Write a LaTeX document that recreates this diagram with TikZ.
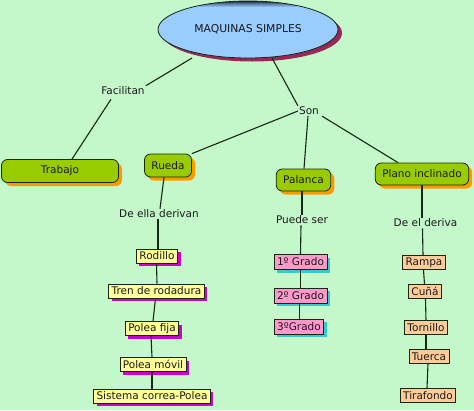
\documentclass[tikz,border=0pt]{standalone}
\usepackage{fontspec}
\setmainfont{DejaVu Sans}
\usetikzlibrary{shadows,shapes.geometric}
\definecolor{bg}{RGB}{196,248,202}
\definecolor{ellfill}{RGB}{153,204,255}
\definecolor{ellshadow}{RGB}{153,40,90}
\definecolor{greenbox}{RGB}{153,204,0}
\definecolor{orangesh}{RGB}{255,153,0}
\definecolor{yellowbox}{RGB}{255,255,153}
\definecolor{magentash}{RGB}{204,0,204}
\definecolor{pinkbox}{RGB}{255,153,204}
\definecolor{cyansh}{RGB}{51,204,204}
\definecolor{peachbox}{RGB}{255,204,153}
\definecolor{linec}{RGB}{20,40,20}
\tikzset{
  every node/.style={font=\fontsize{10.5}{12}\selectfont, text=black!90},
  mainbox/.style={draw=linec, line width=0.8pt, fill=greenbox, rounded corners=6pt,
    minimum height=23pt, inner xsep=7pt, inner ysep=2pt,
    drop shadow={shadow xshift=3.5pt, shadow yshift=-3.5pt, fill=orangesh, opacity=1}},
  yelbox/.style={draw=linec, line width=0.7pt, fill=yellowbox, minimum height=14pt,
    inner xsep=3pt, inner ysep=1pt,
    drop shadow={shadow xshift=3pt, shadow yshift=-3pt, fill=magentash, opacity=1}},
  pinkb/.style={draw=linec, line width=0.7pt, fill=pinkbox, minimum height=15pt,
    inner xsep=3pt, inner ysep=1pt,
    drop shadow={shadow xshift=3pt, shadow yshift=-3pt, fill=cyansh, opacity=1}},
  peachb/.style={draw=linec, line width=0.7pt, fill=peachbox, minimum height=14pt,
    inner xsep=3pt, inner ysep=1pt},
  lbl/.style={inner sep=1pt},
  conn/.style={draw=linec, line width=1.1pt},
}
\begin{document}
\begin{tikzpicture}[x=1pt,y=-1pt]
\useasboundingbox (0,0) rectangle (474,410);
\fill[bg] (0,0) rectangle (474,410);
% title ellipse
\fill[ellshadow] (252,33) ellipse [x radius=90, y radius=28.5];
\fill[ellfill] (248,29.5) ellipse [x radius=90, y radius=28.5];
\begin{scope}
  \clip (248,29.5) ellipse [x radius=90, y radius=28.5];
  \shade[top color=black!80!blue, bottom color=ellfill, middle color=black!40!ellfill] (200,0) rectangle (296,7);
\end{scope}
\draw[linec, line width=0.8pt] (248,29.5) ellipse [x radius=90, y radius=28.5];
\node[inner sep=0pt, minimum width=180pt, minimum height=57pt, font=\fontsize{10.8}{12}\selectfont] (title) at (248,29.5) {MAQUINAS SIMPLES};
\coordinate (tl) at (192,58);
\coordinate (tr) at (272,58);

\node[lbl] (facil) at (123,91) {Facilitan};
\node[lbl] (son) at (309,111) {Son};
\node[mainbox, minimum width=117pt] (trabajo) at (60,171) {Trabajo};
\node[mainbox] (rueda) at (168,165.5) {Rueda};
\node[mainbox, minimum height=22pt] (palanca) at (303.5,180) {Palanca};
\node[mainbox, minimum height=22pt] (plano) at (422,174) {Plano inclinado};

\node[lbl] (ella) at (159,214) {De ella derivan};
\node[yelbox] (rodillo) at (157,256) {Rodillo};
\node[yelbox] (tren) at (156.5,291) {Tren de rodadura};
\node[yelbox] (fija) at (152,328.5) {Polea fija};
\node[yelbox] (movil) at (153,364.5) {Polea móvil};
\node[yelbox] (sist) at (152,396) {Sistema correa-Polea};

\node[lbl] (puede) at (302,220) {Puede ser};
\node[pinkb] (g1) at (300.5,262) {1º Grado};
\node[pinkb] (g2) at (300.5,295.5) {2º Grado};
\node[pinkb] (g3) at (299,326.5) {3ºGrado};

\node[lbl] (deel) at (425.5,223) {De el deriva};
\node[peachb] (rampa) at (424,262.5) {Rampa};
\node[peachb] (cuna) at (425,291.5) {Cuñá};
\node[peachb] (torn) at (426,327.5) {Tornillo};
\node[peachb] (tuerca) at (429,356.5) {Tuerca};
\node[peachb] (tira) at (428,395.5) {Tirafondo};

% connectors
\draw[conn] (tl) -- (facil.north east);
\draw[conn] ([xshift=-12pt,yshift=-3pt]facil.south) -- ([xshift=12pt]trabajo.north);
\draw[conn] (tr) -- (son.north west);
\draw[conn] (son.west) -- (rueda.north east);
\draw[conn] ([xshift=-1pt]son.south) -- ([xshift=0.5pt]palanca.north);
\draw[conn] ([xshift=2pt]son.south east) -- ([xshift=-24pt]plano.north);

\draw[conn] ([xshift=-4pt]rueda.south) -- ([xshift=1pt]ella.north);
\draw[conn] ([xshift=-1pt]ella.south) -- ([xshift=1pt]rodillo.north);
\draw[conn] ([xshift=-0.5pt]rodillo.south) -- ([xshift=0.5pt]tren.north);
\draw[conn] ([xshift=-1pt]tren.south) -- ([xshift=1pt]fija.north);
\draw[conn] ([xshift=-1pt]fija.south) -- ([xshift=-1pt]movil.north);
\draw[conn] ([xshift=-1pt]movil.south) -- (sist.north);

\draw[conn] ([xshift=-1.5pt]palanca.south) -- (puede.north);
\draw[conn] ([xshift=-1pt]puede.south) -- ([xshift=0pt]g1.north);
\draw[conn] (g1.south) -- (g2.north);
\draw[conn] ([xshift=-1pt]g2.south) -- ([xshift=0.5pt]g3.north);

\draw[conn] (plano.south) -- ([xshift=-3.5pt]deel.north);
\draw[conn] ([xshift=-3pt]deel.south) -- ([xshift=-1pt]rampa.north);
\draw[conn] ([xshift=-0.5pt]rampa.south) -- ([xshift=-0.5pt]cuna.north);
\draw[conn] ([xshift=0.5pt]cuna.south) -- ([xshift=0pt]torn.north);
\draw[conn] ([xshift=0pt]torn.south) -- ([xshift=-3pt]tuerca.north);
\draw[conn] ([xshift=-1pt]tuerca.south) -- ([xshift=-1pt]tira.north);
\end{tikzpicture}
\end{document}
